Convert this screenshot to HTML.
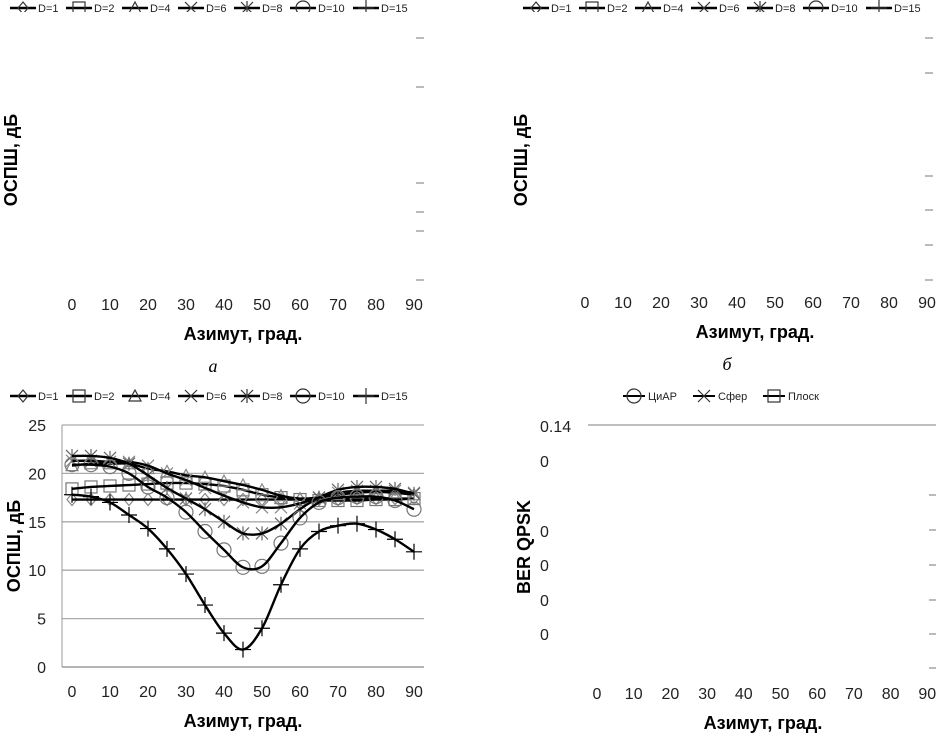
<!DOCTYPE html>
<html><head><meta charset="utf-8"><style>
body{margin:0;background:#fff}
svg{display:block;font-family:"Liberation Sans","DejaVu Sans",sans-serif}
</style></head><body>
<svg id="s" width="941" height="737" xmlns="http://www.w3.org/2000/svg">
<defs>
<clipPath id="cTL"><rect x="0" y="297" width="470" height="20"/></clipPath>
<clipPath id="cTR"><rect x="470" y="295" width="471" height="20"/></clipPath>
<clipPath id="cBR"><rect x="480" y="687" width="461" height="20"/></clipPath>
<clipPath id="cLeg"><rect x="0" y="0" width="941" height="12"/></clipPath>
<clipPath id="cy1"><rect x="0" y="110" width="22" height="98"/></clipPath>
<clipPath id="cy2"><rect x="510" y="110" width="22" height="98"/></clipPath>
</defs>
<g clip-path="url(#cy1)"><text x="0" y="0" font-size="18" font-weight="bold" text-anchor="middle" transform="translate(17,160) rotate(-90)">ОСПШ, дБ</text></g>
<g clip-path="url(#cy2)"><text x="0" y="0" font-size="18" font-weight="bold" text-anchor="middle" transform="translate(527,160) rotate(-90)">ОСПШ, дБ</text></g>
<g id="frag" fill="#000"></g>
<g id="chart"></g>
</svg>
<script>
const xCats=[0,5,10,15,20,25,30,35,40,45,50,55,60,65,70,75,80,85,90];
const xTicks=[0,10,20,30,40,50,60,70,80,90];
const yTicks=[0,5,10,15,20,25];
const seriesNames=["D=1","D=2","D=4","D=6","D=8","D=10","D=15"];
const d1=[17.3,17.3,17.3,17.3,17.3,17.3,17.3,17.3,17.3,17.3,17.3,17.3,17.3,17.3,17.3,17.4,17.4,17.4,17.4];
const d2=[18.4,18.6,18.7,18.8,18.9,19,19,18.9,18.7,18.3,17.8,17.5,17.3,17.2,17.2,17.2,17.3,17.3,17.4];
const d4=[20.8,21,21,21,20.5,20.2,19.8,19.6,19.2,18.8,18.3,17.7,17.4,17.5,17.8,18,18.1,18,17.8];
const d6=[21.3,21.3,21.2,21.2,20.8,20,19.3,18.5,17.7,17,16.5,16.5,16.9,17.5,18,18.2,18.2,18.2,18];
const d8=[21.8,21.8,21.6,21,19.8,18.5,17.4,16.3,15,13.8,13.8,14.8,16.3,17.5,18.3,18.6,18.6,18.4,17.9];
const d10=[20.9,20.9,20.7,20,18.6,17.5,16,14,12.1,10.3,10.4,12.8,15.4,17,17.5,17.6,17.6,17.2,16.3];
const d15=[17.8,17.6,17,15.7,14.3,12.2,9.6,6.4,3.5,1.8,4,8.5,12.2,14,14.6,14.8,14.2,13.2,11.9];
const berTicks=["0","0","0","0","0"];

const NS="http://www.w3.org/2000/svg";
function mk(tag,attrs,parent,txt){const e=document.createElementNS(NS,tag);for(const k in attrs)e.setAttribute(k,attrs[k]);if(txt!==undefined)e.textContent=txt;parent.appendChild(e);return e;}
const chart=document.getElementById('chart'), frag=document.getElementById('frag');
const X=v=>72+(v/90)*342, Y=v=>667-v*9.68;

for(const t of yTicks){
  const g=mk('line',{x1:62,x2:424,y1:Y(t),y2:Y(t),stroke:t===0?'#888':'#aaa','stroke-width':1.3},chart);
  
  
  const l=mk('text',{x:46,y:Y(t)+6,'font-size':16,'text-anchor':'end',fill:'#222'},chart,String(t));
  
  
}
mk('line',{x1:62,x2:62,y1:Y(25),y2:Y(0),stroke:'#999','stroke-width':1},chart);
for(const t of xTicks){
  const l=mk('text',{x:X(t),y:697,'font-size':16,'text-anchor':'middle',fill:'#222'},chart,String(t));
  
  
}
const xt=mk('text',{x:243,y:727,'font-size':18,'font-weight':'bold','text-anchor':'middle'},chart,'Азимут, град.');


const yt=mk('text',{x:0,y:0,'font-size':18,'font-weight':'bold','text-anchor':'middle',transform:'translate(20,546) rotate(-90)'},chart,'ОСПШ, дБ');



function smooth(pts){
  let d='M'+pts[0][0]+','+pts[0][1];
  for(let i=0;i<pts.length-1;i++){
    const p0=pts[Math.max(i-1,0)],p1=pts[i],p2=pts[i+1],p3=pts[Math.min(i+2,pts.length-1)];
    d+=' C'+(p1[0]+(p2[0]-p0[0])/6)+','+(p1[1]+(p2[1]-p0[1])/6)+' '+(p2[0]-(p3[0]-p1[0])/6)+','+(p2[1]-(p3[1]-p1[1])/6)+' '+p2[0]+','+p2[1];
  }
  return d;
}
function marker(type,x,y,g,col){
  const st={fill:'none',stroke:col,'stroke-width':1.2};
  if(type==='diamond')mk('path',Object.assign({d:`M${x},${y-6}L${x+5},${y}L${x},${y+6}L${x-5},${y}Z`},st),g);
  else if(type==='square')mk('rect',Object.assign({x:x-6,y:y-6,width:12,height:12},st),g);
  else if(type==='tri')mk('path',Object.assign({d:`M${x},${y-6}L${x+6},${y+5}L${x-6},${y+5}Z`},st),g);
  else if(type==='x')mk('path',Object.assign({d:`M${x-6},${y-6}L${x+6},${y+6}M${x+6},${y-6}L${x-6},${y+6}`},st),g);
  else if(type==='star')mk('path',Object.assign({d:`M${x-6},${y-6}L${x+6},${y+6}M${x+6},${y-6}L${x-6},${y+6}M${x},${y-7}L${x},${y+7}`},st),g);
  else if(type==='circle')mk('circle',Object.assign({cx:x,cy:y,r:7},st),g);
  else if(type==='plus')mk('path',Object.assign({d:`M${x-8},${y}L${x+8},${y}M${x},${y-8}L${x},${y+8}`},st),g);
}
const series=[d1,d2,d4,d6,d8,d10,d15];
const mtypes=['diamond','square','tri','x','star','circle','plus'];
const mcols=['#888','#777','#888','#888','#666','#777','#000'];
series.forEach((vals,si)=>{
  const g=mk('g',{},chart);
  
  
  const pts=vals.map((v,i)=>[X(xCats[i]),Y(v)]);
  pts.forEach(p=>marker(mtypes[si],p[0],p[1],g,mcols[si]));
  mk('path',{d:smooth(pts),fill:'none',stroke:'#000','stroke-width':2.4},g);
});
function legend(x0,y,names,types,gap,parent,fs,clip){
  const lg=mk('g',clip?{'clip-path':clip}:{},parent);
  
  
  let x=x0;
  names.forEach((n,i)=>{
    const e=mk('g',{},lg);
    
    
    mk('line',{x1:x,x2:x+26,y1:y,y2:y,stroke:'#000','stroke-width':2.4},e);
    marker(types[i],x+13,y,e,'#333');
    mk('text',{x:x+28,y:y+4,'font-size':11,fill:'#222'},e,n);
    x+=gap[i];
  });
}
legend(10,396,seriesNames,mtypes,[56,56,56,56,56,63,60],chart,11);
legend(10,8,seriesNames,mtypes,[56,56,56,56,56,63,60],frag,11,'url(#cLeg)');
legend(523,8,seriesNames,mtypes,[56,56,56,56,56,63,60],frag,11,'url(#cLeg)');
(function(){
  const names=["ЦиАР","Сфер","Плоск"],t=['circle','x','square'],gp=[70,70,70];
  let x=623;
  const lg=mk('g',{},frag);
  
  
  names.forEach((n,i)=>{
    const e=mk('g',{},lg);
    
    
    mk('line',{x1:x,x2:x+22,y1:396,y2:396,stroke:'#000','stroke-width':2},e);
    marker(t[i],x+11,396,e,'#333');
    mk('text',{x:x+25,y:400,'font-size':11,fill:'#222'},e,n);
    x+=gp[i];
  });
})();
xTicks.forEach((t,i)=>{mk('text',{x:72+38*i,y:310,'font-size':16,'text-anchor':'middle','clip-path':'url(#cTL)',fill:'#222'},frag,String(t));});
xTicks.forEach((t,i)=>{mk('text',{x:585+38*i,y:308,'font-size':16,'text-anchor':'middle','clip-path':'url(#cTR)',fill:'#222'},frag,String(t));});
xTicks.forEach((t,i)=>{mk('text',{x:597+36.7*i,y:699,'font-size':16,'text-anchor':'middle','clip-path':'url(#cBR)',fill:'#222'},frag,String(t));});
mk('text',{x:243,y:340,'font-size':18,'font-weight':'bold','text-anchor':'middle'},frag,'Азимут, град.');
mk('text',{x:755,y:338,'font-size':18,'font-weight':'bold','text-anchor':'middle'},frag,'Азимут, град.');
mk('text',{x:763,y:729,'font-size':18,'font-weight':'bold','text-anchor':'middle'},frag,'Азимут, град.');
mk('text',{x:213,y:372,'font-size':18,'font-style':'italic','font-family':'Liberation Serif, serif','text-anchor':'middle'},frag,'а');
mk('text',{x:727,y:370,'font-size':18,'font-style':'italic','font-family':'Liberation Serif, serif','text-anchor':'middle'},frag,'б');
[38,87,183,212,231,280].forEach(y=>mk('line',{x1:416,x2:424,y1:y,y2:y,stroke:'#777'},frag));
[38,73,176,210,245,280].forEach(y=>mk('line',{x1:925,x2:933,y1:y,y2:y,stroke:'#777'},frag));
[495,530,565,600,634,668].forEach(y=>mk('line',{x1:929,x2:936,y1:y,y2:y,stroke:'#777'},frag));
mk('line',{x1:588,x2:936,y1:425,y2:425,stroke:'#999','stroke-width':1.3},frag);
mk('text',{x:540,y:432,'font-size':16,fill:'#222'},frag,'0.14');
berTicks.forEach((t,i)=>mk('text',{x:540,y:[467,537,571,606,640][i],'font-size':16,fill:'#222'},frag,t));
mk('text',{x:0,y:0,'font-size':18,'font-weight':'bold','text-anchor':'middle',transform:'translate(530,547) rotate(-90)'},frag,'BER QPSK');
</script>
</body></html>
